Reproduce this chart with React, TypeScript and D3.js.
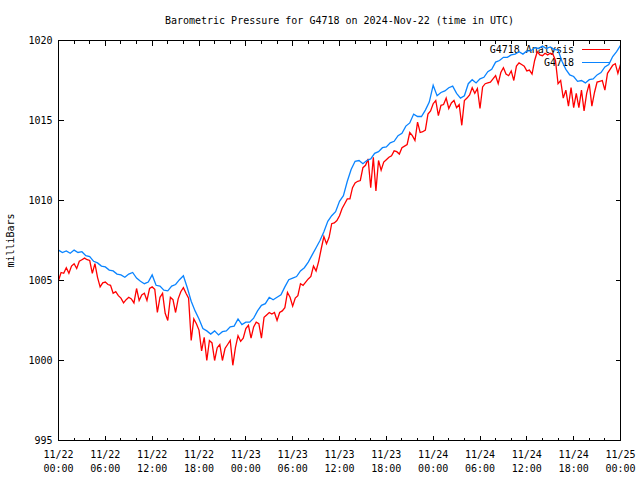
import React from 'react';
import * as d3 from 'd3';

const title = 'Barometric Pressure for G4718 on 2024-Nov-22 (time in UTC)';
const yLabel = 'milliBars';
const seriesNames = ['G4718 Analysis', 'G4718'];
const seriesColors = ['#ff0000', '#0a84ff'];
const startTime = Date.UTC(2024, 10, 22, 0, 0);
const endTime = Date.UTC(2024, 10, 25, 0, 0);
const yTicks = [995, 1000, 1005, 1010, 1015, 1020];

// G4718 station readings, one every 30 minutes
const stationStepMin = 30;
const stationValues = [
  1006.9, 1006.75, 1006.85, 1006.7, 1006.9, 1006.75, 1006.8, 1006.55, 1006.5, 1006.2, 1006.1, 1005.9,
  1005.85, 1005.65, 1005.6, 1005.4, 1005.35, 1005.2, 1005.4, 1005.5, 1005.15, 1004.95, 1004.8, 1004.9,
  1005.35, 1004.7, 1004.65, 1004.4, 1004.35, 1004.65, 1004.75, 1005.05, 1005.3, 1004.55, 1003.7, 1003.1,
  1002.6, 1002.0, 1001.85, 1001.65, 1001.85, 1001.6, 1001.8, 1001.85, 1002.1, 1002.15, 1002.6, 1002.25,
  1002.4, 1002.4, 1002.65, 1003.1, 1003.45, 1003.55, 1003.95, 1003.8, 1003.95, 1004.1, 1004.6, 1005.05,
  1005.15, 1005.25, 1005.6, 1005.8, 1006.15, 1006.6, 1007.05, 1007.5, 1008.05, 1008.7, 1009.05, 1009.3,
  1009.95, 1010.3, 1011.2, 1011.95, 1012.45, 1012.5, 1012.3, 1012.5, 1012.6, 1012.95, 1013.05, 1013.3,
  1013.35, 1013.6, 1013.7, 1014.05, 1014.2, 1014.65, 1014.85, 1015.4, 1015.25, 1015.25, 1015.65, 1016.15,
  1017.2, 1016.55, 1016.75, 1016.85, 1017.05, 1017.15, 1016.7, 1016.4, 1016.55, 1017.3, 1017.55, 1017.35,
  1017.6, 1017.7, 1018.05, 1018.2, 1018.65, 1018.75, 1018.95, 1018.95, 1019.1, 1019.15, 1019.3, 1019.15,
  1019.35, 1019.35, 1019.55, 1019.5, 1019.65, 1019.5, 1019.6, 1019.45, 1019.4, 1018.7, 1018.2, 1017.85,
  1017.75, 1017.45, 1017.5, 1017.35, 1017.55, 1017.6, 1017.85, 1018.0, 1018.35, 1018.5, 1019.0, 1019.3,
  1019.7,
];

// G4718 analysis values, one every 20 minutes
const analysisStepMin = 20;
const analysisValues = [
  1005.0, 1005.5, 1005.45, 1005.8, 1005.45, 1005.9, 1006.05, 1005.75, 1006.2, 1006.3, 1006.4, 1006.3, 1006.25, 1005.45, 1006.05, 1005.2, 1004.6, 1004.85,
  1004.9, 1004.75, 1004.7, 1004.2, 1004.3, 1004.05, 1003.9, 1003.6, 1003.8, 1003.95, 1003.85, 1003.6, 1004.5, 1003.75, 1004.1, 1004.2, 1003.75, 1004.5,
  1004.6, 1004.45, 1003.0, 1003.95, 1004.2, 1002.95, 1002.5, 1003.95, 1003.8, 1003.0, 1003.85, 1004.3, 1004.55, 1004.2, 1003.9, 1001.25, 1002.6, 1002.3,
  1001.9, 1000.6, 1001.45, 1000.0, 1001.25, 1001.1, 1000.0, 1000.8, 1001.0, 1000.0, 1000.75, 1001.0, 1001.25, 999.7, 1000.8, 1001.55, 1001.2, 1001.4,
  1002.0, 1002.2, 1001.4, 1002.1, 1002.4, 1002.3, 1001.4, 1002.7, 1002.85, 1003.0, 1002.9, 1003.0, 1002.5, 1003.0, 1003.1, 1003.3, 1004.25, 1003.95,
  1003.4, 1003.9, 1004.05, 1004.8, 1004.7, 1004.9, 1005.1, 1005.25, 1005.9, 1005.6, 1006.2, 1007.0, 1007.75, 1007.3, 1007.7, 1008.55, 1008.6, 1008.75,
  1009.05, 1009.5, 1009.8, 1010.1, 1010.1, 1010.8, 1011.1, 1011.2, 1011.25, 1012.05, 1012.2, 1012.6, 1010.8, 1012.7, 1010.6, 1012.5, 1011.9, 1012.4,
  1012.55, 1012.7, 1012.8, 1013.1, 1013.05, 1012.9, 1013.3, 1013.4, 1013.5, 1014.25, 1014.05, 1013.75, 1014.9, 1014.25, 1014.3, 1014.4, 1015.4, 1015.6,
  1016.05, 1016.25, 1015.3, 1015.95, 1016.0, 1016.4, 1015.75, 1016.1, 1016.25, 1015.8, 1016.0, 1014.7, 1016.25, 1016.4, 1016.6, 1017.05, 1016.7, 1017.0,
  1015.75, 1017.1, 1017.3, 1017.35, 1017.4, 1017.6, 1017.8, 1017.3, 1018.0, 1018.3, 1017.9, 1017.8, 1018.1, 1017.5, 1018.4, 1018.6, 1018.5, 1018.4,
  1018.1, 1018.15, 1017.9, 1018.75, 1019.3, 1019.1, 1019.05, 1019.2, 1019.1, 1019.2, 1019.15, 1018.75, 1017.3, 1017.5, 1016.4, 1016.9, 1015.9, 1017.05,
  1015.8, 1016.7, 1015.8, 1016.9, 1015.6, 1016.7, 1017.3, 1015.9, 1016.75, 1017.4, 1017.45, 1017.5, 1016.9, 1017.95, 1018.2, 1018.45, 1018.55, 1017.95,
  1018.5,
];

const width = 640;
const height = 480;
const margin = { top: 40, right: 20, bottom: 40, left: 58 };
const font = '"DejaVu Sans Mono", "Liberation Mono", monospace';

const App: React.FC = () => {
  const x = d3.scaleUtc()
    .domain([new Date(startTime), new Date(endTime)])
    .range([margin.left + 0.5, width - margin.right + 0.5]);
  const y = d3.scaleLinear()
    .domain([995, 1020])
    .range([height - margin.bottom + 0.5, margin.top + 0.5]);

  const [x0, x1] = x.range();
  const [y0, y1] = y.range();

  const majorTicks = x.ticks(d3.utcHour.every(6)!);
  const minorTicks = x.ticks(d3.utcHour.every(2)!).filter(t => t.getUTCHours() % 6 !== 0);
  const fmtDay = d3.utcFormat('%m/%d');
  const fmtHour = d3.utcFormat('%H:%M');

  const makeLine = (stepMin: number) =>
    d3.line<number>()
      .x((_, i) => x(new Date(startTime + i * stepMin * 60000)))
      .y(d => y(d));

  const analysisPath = makeLine(analysisStepMin)(analysisValues) || '';
  const stationPath = makeLine(stationStepMin)(stationValues) || '';

  const legendX = 574;
  const legendRows = [49, 62];
  const snap = (v: number) => Math.round(v - 0.5) + 0.5;

  return (
    <svg width={width} height={height} style={{ position: 'absolute', left: 0, top: 0, background: '#fff' }}
      fontFamily={font} fontSize={10}>
      <rect width={width} height={height} fill="#fff" />
      <text x={(x0 + x1) / 2} y={24} textAnchor="middle">{title}</text>
      <text transform={`translate(14,${(y0 + y1) / 2}) rotate(-90)`} textAnchor="middle">{yLabel}</text>

      <g stroke="#000" shapeRendering="crispEdges">
        {yTicks.map(t => (
          <g key={t}>
            <line x1={x0} x2={x0 + 5} y1={snap(y(t))} y2={snap(y(t))} />
            <line x1={x1 - 5} x2={x1} y1={snap(y(t))} y2={snap(y(t))} />
          </g>
        ))}
        {majorTicks.map(t => (
          <g key={+t}>
            <line x1={snap(x(t))} x2={snap(x(t))} y1={y0} y2={y0 - 5} />
            <line x1={snap(x(t))} x2={snap(x(t))} y1={y1} y2={y1 + 5} />
          </g>
        ))}
        {minorTicks.map(t => (
          <g key={+t}>
            <line x1={snap(x(t))} x2={snap(x(t))} y1={y0} y2={y0 - 3} />
            <line x1={snap(x(t))} x2={snap(x(t))} y1={y1} y2={y1 + 3} />
          </g>
        ))}
      </g>

      {yTicks.map(t => (
        <text key={t} x={x0 - 6} y={y(t) + 3.5} textAnchor="end">{t}</text>
      ))}
      {majorTicks.map(t => (
        <g key={+t}>
          <text x={x(t)} y={458} textAnchor="middle">{fmtDay(t)}</text>
          <text x={x(t)} y={472} textAnchor="middle">{fmtHour(t)}</text>
        </g>
      ))}

      {seriesNames.map((name, i) => (
        <g key={name}>
          <text x={legendX} y={legendRows[i] + 3.5} textAnchor="end">{name}</text>
          <line x1={582} x2={610} y1={legendRows[i] + 0.5} y2={legendRows[i] + 0.5}
            stroke={seriesColors[i]} shapeRendering="crispEdges" />
        </g>
      ))}

      <path d={analysisPath} fill="none" stroke={seriesColors[0]} strokeWidth={1.3} />
      <path d={stationPath} fill="none" stroke={seriesColors[1]} strokeWidth={1.3} />

      <rect x={x0} y={y1} width={x1 - x0} height={y0 - y1} fill="none" stroke="#000" shapeRendering="crispEdges" />
    </svg>
  );
};

export default App;
